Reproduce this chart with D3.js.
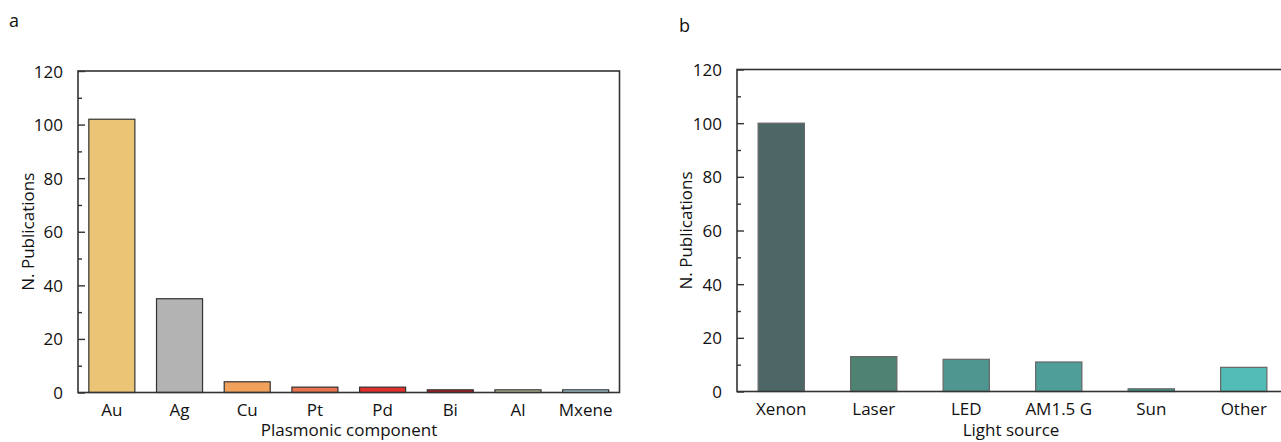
<!DOCTYPE html>
<html>
<head>
	<title>Publications bar charts</title>
	<script src="https://cdn.jsdelivr.net/npm/d3@7"></script>
	<style type="text/css">
		body{ margin:0; background:#fff; }
		svg text{ font-family:"Open Sans", "Noto Sans", sans-serif; fill:#111; }
	</style>
</head>
<body>
	<svg width=1281 height=442 class="charts"></svg>
	<script type="text/javascript">

		// panel a data
		plasmonCats = ['Au', 'Ag', 'Cu', 'Pt', 'Pd', 'Bi', 'Al', 'Mxene']
		plasmonVals = [102, 35, 4, 2, 2, 1, 1, 1]
		plasmonColors = ['#ecc476', '#b3b3b3', '#f2a15c', '#e9724f', '#e3302c', '#b51b24', '#bcbf98', '#aed3df']

		// panel b data
		lightCats = ['Xenon', 'Laser', 'LED', 'AM1.5 G', 'Sun', 'Other']
		lightVals = [100, 13, 12, 11, 1, 9]
		lightColors = ['#4c6765', '#4f8272', '#4f9590', '#4f9e99', '#3f948b', '#52bdb6']

		yTicks = [0, 20, 40, 60, 80, 100, 120]
		yMinor = [10, 30, 50, 70, 90, 110]

		svg = d3.select('.charts')

		function drawPanel(opt){
			var g = svg.append('g')
			var x = d3.scaleBand()
				.domain(opt.cats)
				.range(opt.band)
				.paddingInner(opt.pad)
				.paddingOuter(opt.pad / 2)
			var y = d3.scaleLinear()
				.domain([0, 120])
				.range([opt.bottom, opt.top])

			// bars
			g.append('g')
				.selectAll('rect')
				.data(opt.vals)
				.enter()
				.append('rect')
				.attr('x', function(d, i){ return x(opt.cats[i]) })
				.attr('y', function(d){ return y(d) })
				.attr('width', x.bandwidth())
				.attr('height', function(d){ return y(0) - y(d) })
				.attr('fill', function(d, i){ return opt.colors[i] })
				.attr('stroke', opt.barStroke)
				.attr('stroke-width', 1.2)

			// frame
			g.append('rect')
				.attr('x', opt.left)
				.attr('y', opt.top)
				.attr('width', opt.right - opt.left)
				.attr('height', opt.bottom - opt.top)
				.attr('fill', 'none')
				.attr('stroke', '#333')
				.attr('stroke-width', 1.6)

			// inward ticks
			var yAxis = d3.axisRight(y).tickValues(yTicks).tickSize(7).tickFormat('')
			g.append('g').attr('transform', 'translate(' + opt.left + ',0)').call(yAxis)
				.call(function(s){ s.select('.domain').remove() })
				.selectAll('line').attr('stroke', '#333').attr('stroke-width', 1.4)
			var yMin = d3.axisRight(y).tickValues(yMinor).tickSize(4).tickFormat('')
			g.append('g').attr('transform', 'translate(' + opt.left + ',0)').call(yMin)
				.call(function(s){ s.select('.domain').remove() })
				.selectAll('line').attr('stroke', '#333').attr('stroke-width', 1.4)

			// tick labels
			g.append('g')
				.selectAll('text')
				.data(yTicks)
				.enter()
				.append('text')
				.attr('x', opt.left - 15)
				.attr('y', function(d){ return y(d) })
				.attr('text-anchor', 'end')
				.attr('dominant-baseline', 'central')
				.attr('font-size', 17)
				.text(function(d){ return d })

			g.append('g')
				.selectAll('text')
				.data(opt.cats)
				.enter()
				.append('text')
				.attr('x', function(d){ return x(d) + x.bandwidth() / 2 })
				.attr('y', opt.bottom + 23)
				.attr('text-anchor', 'middle')
				.attr('font-size', 17)
				.text(function(d){ return d })

			// axis titles
			g.append('text')
				.attr('x', opt.xTitleX)
				.attr('y', 436)
				.attr('text-anchor', 'middle')
				.attr('font-size', 17)
				.text(opt.xTitle)

			g.append('text')
				.attr('transform', 'translate(' + opt.yTitleX + ',' + ((opt.top + opt.bottom) / 2) + ') rotate(-90)')
				.attr('text-anchor', 'middle')
				.attr('dominant-baseline', 'central')
				.attr('font-size', 17)
				.text('N. Publications')

			g.append('text')
				.attr('x', opt.labelX)
				.attr('y', opt.labelY)
				.attr('font-size', 18)
				.text(opt.label)
		}

		drawPanel({
			cats: plasmonCats, vals: plasmonVals, colors: plasmonColors, barStroke: '#333',
			left: 78, right: 619.5, top: 71, bottom: 392.5, band: [78, 619.5], pad: 0.32,
			xTitle: 'Plasmonic component', xTitleX: 349, yTitleX: 27,
			label: 'a', labelX: 9, labelY: 27
		})

		drawPanel({
			cats: lightCats, vals: lightVals, colors: lightColors, barStroke: '#666',
			left: 737, right: 1292, top: 69.5, bottom: 391.5, band: [735, 1290], pad: 0.5,
			xTitle: 'Light source', xTitleX: 1011, yTitleX: 685,
			label: 'b', labelX: 679, labelY: 32
		})

	</script>
</body>
</html>
